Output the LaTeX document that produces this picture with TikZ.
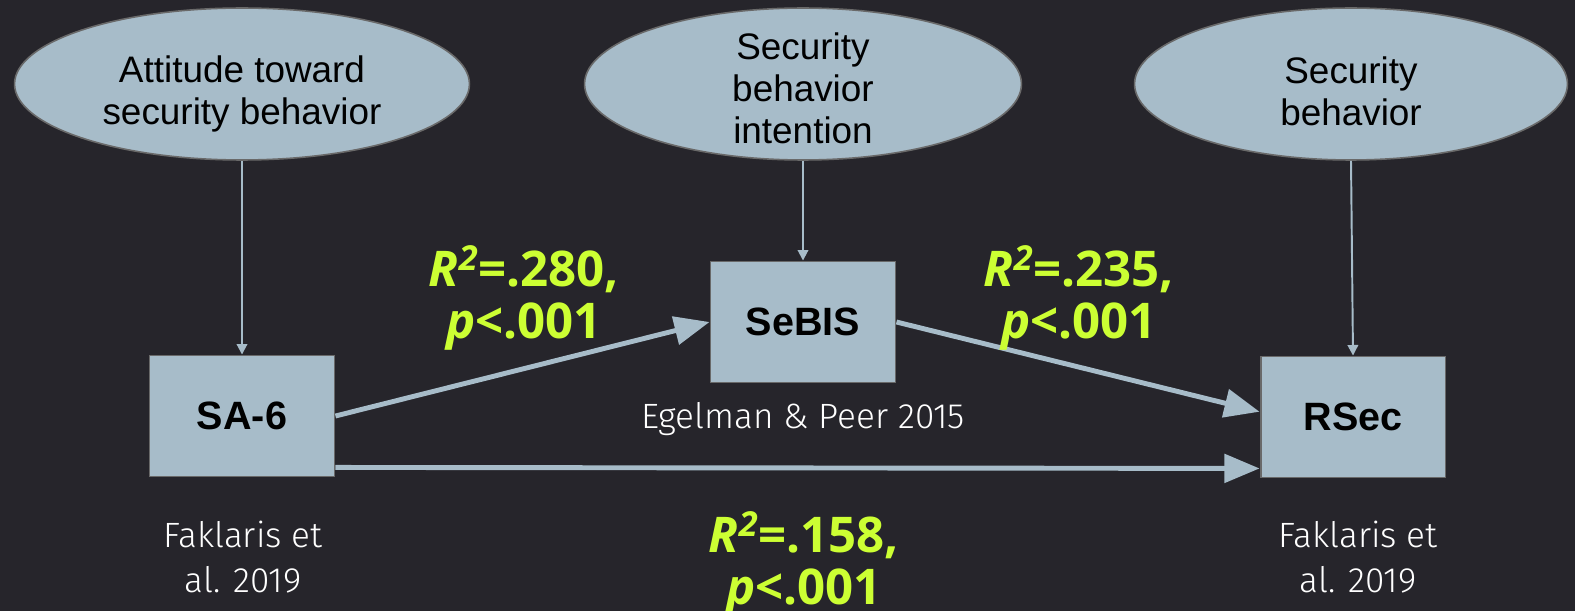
\documentclass[tikz,border=0pt]{standalone}
\usepackage{fontspec}
\setmainfont{Liberation Sans}
\newfontfamily\statfont{Open Sans}
\newfontfamily\citefont{Fira Sans Light}
\usetikzlibrary{arrows.meta,shapes.geometric}

\definecolor{bg}{RGB}{38,37,43}
\definecolor{boxfill}{RGB}{167,188,201}
\definecolor{boxline}{RGB}{105,105,105}
\definecolor{stat}{RGB}{204,255,51}

\tikzset{
  latent/.style={ellipse, draw=boxline, line width=0.9pt, fill=boxfill, inner sep=0pt,
    minimum height=3.04cm},
  latenttext/.style={align=center, font=\fontsize{21}{24}\selectfont},
  measure/.style={rectangle, draw=boxline, line width=1.1pt, fill=boxfill,
    minimum width=3.7cm, minimum height=2.42cm, font=\fontsize{22.5}{26}\selectfont\bfseries},
  load/.style={draw=boxfill, line width=1.1pt, -{Triangle[length=6pt,width=6pt]}},
  path/.style={draw=boxfill, line width=2.8pt, -{Triangle[length=20pt,width=16pt]}},
  stats/.style={text=stat, align=center, font=\statfont\fontsize{28}{30}\selectfont\bfseries},
  cite/.style={text=white, align=center, font=\citefont\fontsize{20}{25.5}\selectfont},
}

\begin{document}
\begin{tikzpicture}[x=0.02cm, y=-0.02cm]
\fill[bg] (0,0) rectangle (1575,611);
\useasboundingbox (0,0) rectangle (1575,611);

% constructs
\node[latent, minimum width=9.1cm, label={[latenttext, yshift=-5.5pt]center:Attitude toward\\security behavior}]
  (attitude) at (242,84) {};
\node[latent, minimum width=8.74cm, label={[latenttext, yshift=-2.5pt]center:Security\\behavior\\intention}]
  (intention) at (803,84) {};
\node[latent, minimum width=8.66cm, label={[latenttext, yshift=-4pt]center:Security\\behavior}]
  (behavior) at (1351,84) {};

% scales
\node[measure] (sa6)   at (242,416) {SA-6};
\node[measure] (sebis) at (803,322) {SeBIS};
\node[measure] (rsec)  at (1353,417) {RSec};

\draw[load] (attitude.south) -- (sa6.north);
\draw[load] (intention.south) -- (sebis.north);
\draw[load] (behavior.south) -- (rsec.north);

\draw[path] (sa6.east) -- (sebis.west);
\draw[path] (sebis.east) -- ([yshift=3pt]rsec.west);
\draw[path] ([yshift=5.7pt]sa6.south east) -- ([yshift=5.7pt]rsec.south west);

% results
\node[stats] (r280) at (524,298) {\itshape R\textsuperscript{2}\upshape=.280,\\\itshape p\upshape<.001};
\node[stats] (r235) at (1079,298) {\itshape R\textsuperscript{2}\upshape=.235,\\\itshape p\upshape<.001};
\node[stats] (r158) at (804,564) {\itshape R\textsuperscript{2}\upshape=.158,\\\itshape p\upshape<.001};

% sources
\node[cite] (src1) at (243,557) {Faklaris et\\al. 2019};
\node[cite] (src2) at (803,419) {Egelman \& Peer 2015};
\node[cite] (src3) at (1358,557) {Faklaris et\\al. 2019};
\end{tikzpicture}
\end{document}
